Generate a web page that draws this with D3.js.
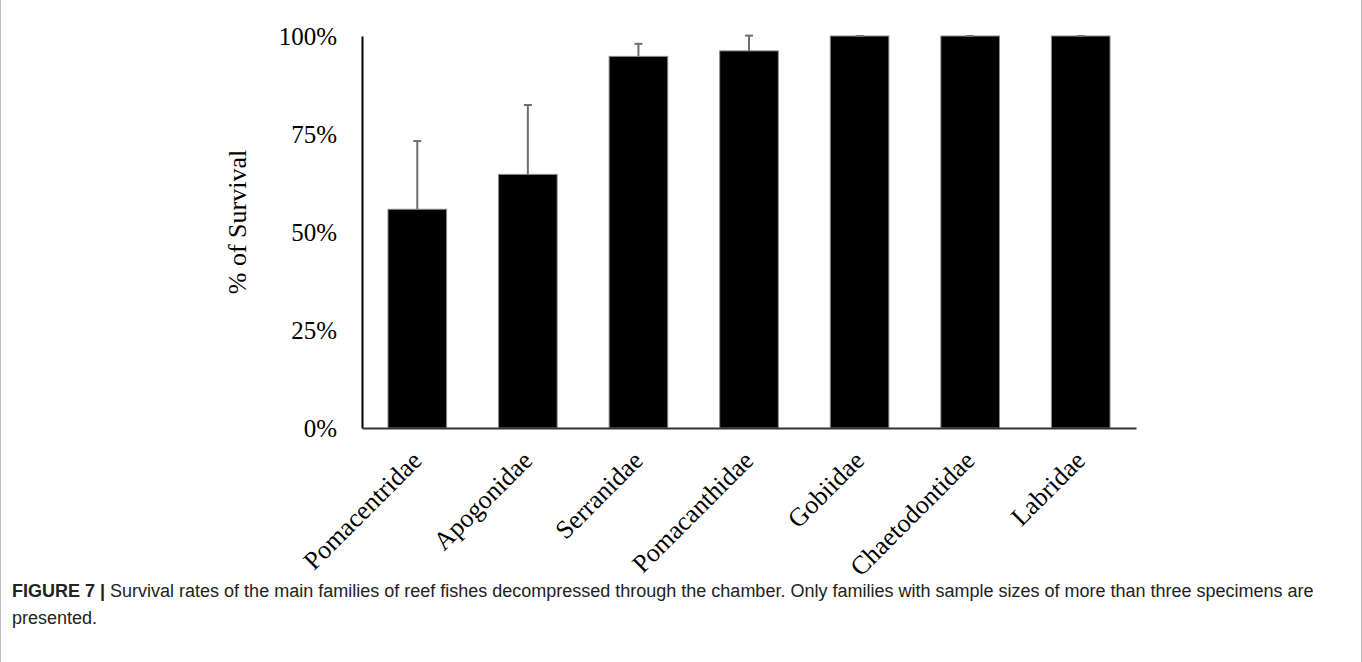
<!DOCTYPE html>
<html>
<head>
<meta charset="utf-8">
<script src="https://cdn.jsdelivr.net/npm/d3@7"></script>
<style>
  html, body { margin: 0; padding: 0; background: #fff; }
  svg { display: block; }
</style>
</head>
<body>
<svg id="chart" width="1362" height="662"></svg>
<script>
// Reef fish families and their survival after decompression (mean %, with SD above the bar)
const families = ["Pomacentridae", "Apogonidae", "Serranidae", "Pomacanthidae", "Gobiidae", "Chaetodontidae", "Labridae"];
const survival = [55.8, 64.7, 94.8, 96.2, 100, 100, 100];
const errorUp = [17.4, 17.7, 3.2, 3.9, 0, 0, 0];
const yTicks = [0, 25, 50, 75, 100];

const svg = d3.select("#chart");
const serif = "'Liberation Serif', 'Times New Roman', serif";

const plot = { left: 362, right: 1136, top: 36, bottom: 428 };

const x = d3.scaleBand()
  .domain(families)
  .range([plot.left, plot.right])
  .paddingInner(0.47)
  .paddingOuter(0.235);

const y = d3.scaleLinear()
  .domain([0, 100])
  .range([plot.bottom, plot.top]);

const rows = families.map((f, i) => ({ name: f, value: survival[i], err: errorUp[i] }));

// bars
svg.append("g").selectAll("rect")
  .data(rows)
  .join("rect")
  .attr("x", d => x(d.name))
  .attr("y", d => y(d.value))
  .attr("width", x.bandwidth())
  .attr("height", d => y(0) - y(d.value))
  .attr("fill", "#000")
  .attr("stroke", "#8a8a8a")
  .attr("stroke-width", 1);

// upper error bars
const eb = svg.append("g").attr("stroke", "#6e6e6e").attr("stroke-width", 2);
eb.selectAll("line.stem")
  .data(rows)
  .join("line")
  .attr("class", "stem")
  .attr("x1", d => x(d.name) + x.bandwidth() / 2)
  .attr("x2", d => x(d.name) + x.bandwidth() / 2)
  .attr("y1", d => y(d.value))
  .attr("y2", d => y(d.value + d.err));
eb.selectAll("line.cap")
  .data(rows)
  .join("line")
  .attr("class", "cap")
  .attr("x1", d => x(d.name) + x.bandwidth() / 2 - 4)
  .attr("x2", d => x(d.name) + x.bandwidth() / 2 + 4)
  .attr("y1", d => y(d.value + d.err))
  .attr("y2", d => y(d.value + d.err));

// y axis
const yAxis = svg.append("g")
  .attr("transform", `translate(${plot.left},0)`)
  .call(d3.axisLeft(y).tickValues(yTicks).tickSize(0).tickPadding(25).tickFormat(d => d + "%"));
yAxis.select(".domain").attr("stroke", "#000").attr("stroke-width", 2);
yAxis.selectAll("text")
  .attr("font-family", serif)
  .attr("font-size", 25)
  .attr("fill", "#000");

// x axis
const xAxis = svg.append("g")
  .attr("transform", `translate(0,${plot.bottom})`)
  .call(d3.axisBottom(x).tickSize(0).tickFormat(""));
xAxis.select(".domain").attr("stroke", "#333").attr("stroke-width", 2);

// rotated category labels
svg.append("g").selectAll("text")
  .data(families)
  .join("text")
  .attr("transform", d => `translate(${x(d) + x.bandwidth() / 2 + 6},${plot.bottom + 34}) rotate(-45)`)
  .attr("text-anchor", "end")
  .attr("font-family", serif)
  .attr("font-size", 26)
  .attr("fill", "#000")
  .text(d => d);

// y axis title
svg.append("text")
  .attr("transform", `translate(246,222) rotate(-90)`)
  .attr("text-anchor", "middle")
  .attr("font-family", serif)
  .attr("font-size", 26)
  .attr("fill", "#000")
  .text("% of Survival");

// figure frame
svg.append("line").attr("x1", 0.5).attr("x2", 0.5).attr("y1", 0).attr("y2", 662).attr("stroke", "#bdbdbd");
svg.append("line").attr("x1", 1361.5).attr("x2", 1361.5).attr("y1", 0).attr("y2", 662).attr("stroke", "#bdbdbd");

// caption
const cap = svg.append("text")
  .attr("font-family", "'Liberation Sans', Arial, sans-serif")
  .attr("font-size", 18)
  .attr("fill", "#222");
const line1 = cap.append("tspan").attr("x", 12).attr("y", 597);
line1.append("tspan").attr("font-weight", "bold").text("FIGURE 7 |");
line1.append("tspan").text(" Survival rates of the main families of reef fishes decompressed through the chamber. Only families with sample sizes of more than three specimens are");
cap.append("tspan").attr("x", 12).attr("y", 624).text("presented.");
</script>
</body>
</html>
